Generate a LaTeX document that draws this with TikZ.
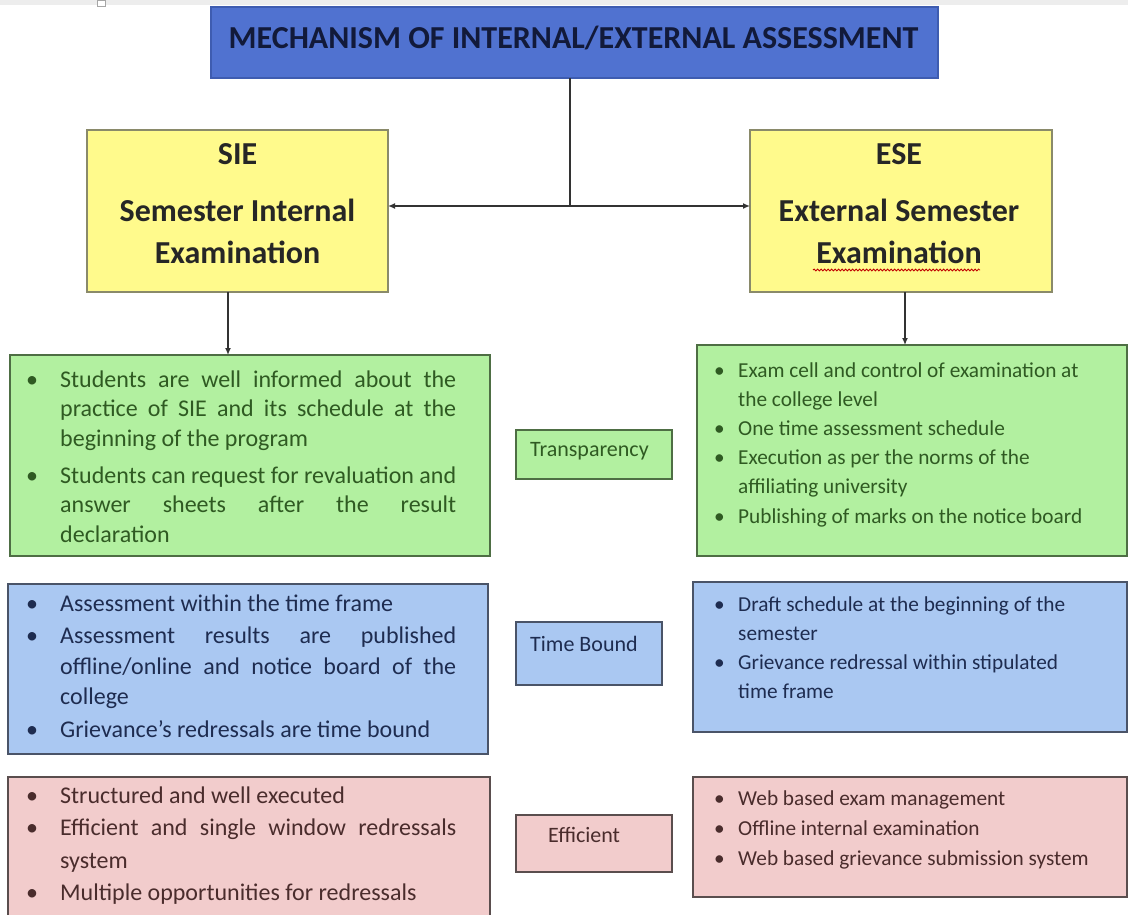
\documentclass[tikz,border=0pt]{standalone}
\usepackage{fontspec}
\setmainfont{Carlito}
\usetikzlibrary{arrows.meta,decorations.pathmorphing}
\definecolor{titleblue}{HTML}{5072D0}
\definecolor{titleedge}{HTML}{3E5CB0}
\definecolor{titletext}{HTML}{121A3A}
\definecolor{yel}{HTML}{FFFA8C}
\definecolor{yeledge}{HTML}{8A8A6A}
\definecolor{grn}{HTML}{B2F0A0}
\definecolor{grnedge}{HTML}{4E6E44}
\definecolor{grntext}{HTML}{2F5A22}
\definecolor{blu}{HTML}{AAC8F2}
\definecolor{bluedge}{HTML}{4A5468}
\definecolor{blutext}{HTML}{1E2C50}
\definecolor{pnk}{HTML}{F2CCCC}
\definecolor{pnkedge}{HTML}{5A4E4E}
\definecolor{pnktext}{HTML}{4A2C2C}
\newlength{\bhang}
\newcommand{\bitem}[1]{\par\noindent\hangindent=\bhang\hangafter=1\makebox[\bhang][l]{\textbullet}#1}
% justified list: width, size, baselineskip, parskip, items
\newcommand{\jlist}[5]{\begin{minipage}[t]{#1}\fontsize{#2}{#3}\selectfont\setlength{\parskip}{#4}\setlength{\parindent}{0pt}#5\end{minipage}}
\newcommand{\rlist}[5]{\begin{minipage}[t]{#1}\fontsize{#2}{#3}\selectfont\setlength{\parskip}{#4}\setlength{\parindent}{0pt}\rightskip=0pt plus 1fil\relax #5\end{minipage}}
\newcommand{\hdr}[3]{\begin{minipage}[t]{300pt}\centering\fontsize{32}{42}\selectfont\bfseries #1\\[15pt]#2\\#3\end{minipage}}
\begin{document}
\begin{tikzpicture}[x=1pt,y=-1pt,
  box/.style={draw, rectangle, line width=1.3pt, inner sep=0pt, outer sep=0pt},
  titlebox/.style={box, fill=titleblue, draw=titleedge},
  exambox/.style={box, fill=yel, draw=yeledge},
  gbox/.style={box, fill=grn, draw=grnedge},
  bbox/.style={box, fill=blu, draw=bluedge},
  pbox/.style={box, fill=pnk, draw=pnkedge},
  txt/.style={anchor=base west, inner sep=0pt},
  hdrtxt/.style={anchor=base, inner sep=0pt, text=black!85},
  tag/.style={txt, font=\fontsize{22}{26}\selectfont},
  conn/.style={line width=1.3pt, draw=black!80},
  arr/.style={conn, -{Latex[length=7pt,width=6pt]}}
]
\useasboundingbox (0,0) rectangle (1128,915);
% screenshot strip at the top
\fill[black!7] (0,0) rectangle (1128,5);
\draw[black!35, fill=white, line width=0.6pt] (97,0) rectangle (105,6);

% title
\node[titlebox, minimum width=727pt, minimum height=71pt] (title) at (574.5,42.5) {};
\node[anchor=base, inner sep=0pt, text=titletext, font=\fontsize{32}{32}\selectfont\bfseries]
  (titlet) at (573.5,49) {MECHANISM OF INTERNAL/EXTERNAL ASSESSMENT};

% exam boxes
\node[exambox, minimum width=301pt, minimum height=162pt] (sie) at (237.5,211) {};
\node[exambox, minimum width=302pt, minimum height=162pt] (ese) at (901,211) {};
\node[hdrtxt] (siet) at (237.5,165) {\hdr{SIE}{Semester Internal}{Examination}};
\node[hdrtxt] (eset) at (899,165) {\hdr{ESE}{External Semester}{Examination}};
\draw[red!75!black, line width=0.8pt, decorate,
  decoration={snake, amplitude=1pt, segment length=3.5pt}] (813,270) -- (980,270);

% coloured boxes
\node[gbox, minimum width=480pt, minimum height=201pt] (gl) at (250,455.5) {};
\node[gbox, minimum width=430pt, minimum height=211pt] (gr) at (912,450.5) {};
\node[gbox, minimum width=156pt, minimum height=49pt] (tr) at (594,454.5) {};
\node[bbox, minimum width=480pt, minimum height=170pt] (bl) at (248,669) {};
\node[bbox, minimum width=434pt, minimum height=150pt] (br) at (910,657) {};
\node[bbox, minimum width=146pt, minimum height=63pt] (tb) at (589,653.5) {};
\node[pbox, minimum width=482pt, minimum height=140pt] (pl) at (249,847) {};
\node[pbox, minimum width=434pt, minimum height=120pt] (pr) at (910,837) {};
\node[pbox, minimum width=156pt, minimum height=57pt] (ef) at (594,843.5) {};

% middle tags
\node[tag, text=grntext] (trt) at (530,456) {Transparency};
\node[tag, text=blutext] (tbt) at (530,651) {Time Bound};
\node[tag, text=pnktext] (eft) at (548,842) {Efficient};

% connectors
\coordinate (j) at (570,206);
\draw[conn] (title.south -| j) -- (j);
\draw[arr] (j) -- (j -| sie.east);
\draw[arr] (j) -- (j -| ese.west);
\draw[arr] (sie.south -| 228,0) -- (gl.north -| 228,0);
\draw[arr] (ese.south -| 905,0) -- (gr.north -| 905,0);

% left lists
\setlength{\bhang}{34pt}
\node[txt, text=grntext] (glt) at (26,387)
 {\jlist{430pt}{24}{29.5}{7.5pt}{%
  \bitem{Students are well informed about the\linebreak practice of SIE and its schedule at the\linebreak beginning of the program}%
  \bitem{Students can request for revaluation and\linebreak answer sheets after the result\linebreak declaration}}};
\node[txt, text=blutext] (blt) at (26,611)
 {\jlist{430pt}{24}{30.5}{2pt}{%
  \bitem{Assessment within the time frame}%
  \bitem{Assessment results are published\linebreak offline/online and notice board of the\linebreak college}%
  \bitem{Grievance’s redressals are time bound}}};
\node[txt, text=pnktext] (plt) at (26,803)
 {\jlist{430pt}{24}{32.5}{0pt}{%
  \bitem{Structured and well executed}%
  \bitem{Efficient and single window redressals\linebreak system}%
  \bitem{Multiple opportunities for redressals}}};

% right lists
\setlength{\bhang}{24pt}
\node[txt, text=grntext] (grt) at (714,377)
 {\rlist{410pt}{21.3}{29.2}{0pt}{%
  \bitem{Exam cell and control of examination at\newline the college level}%
  \bitem{One time assessment schedule}%
  \bitem{Execution as per the norms of the\newline affiliating university}%
  \bitem{Publishing of marks on the notice board}}};
\node[txt, text=blutext] (brt) at (714,611)
 {\rlist{410pt}{21.3}{29}{0pt}{%
  \bitem{Draft schedule at the beginning of the\newline semester}%
  \bitem{Grievance redressal within stipulated\newline time frame}}};
\node[txt, text=pnktext] (prt) at (714,805)
 {\rlist{410pt}{21.3}{30}{0pt}{%
  \bitem{Web based exam management}%
  \bitem{Offline internal examination}%
  \bitem{Web based grievance submission system}}};
\end{tikzpicture}
\end{document}
